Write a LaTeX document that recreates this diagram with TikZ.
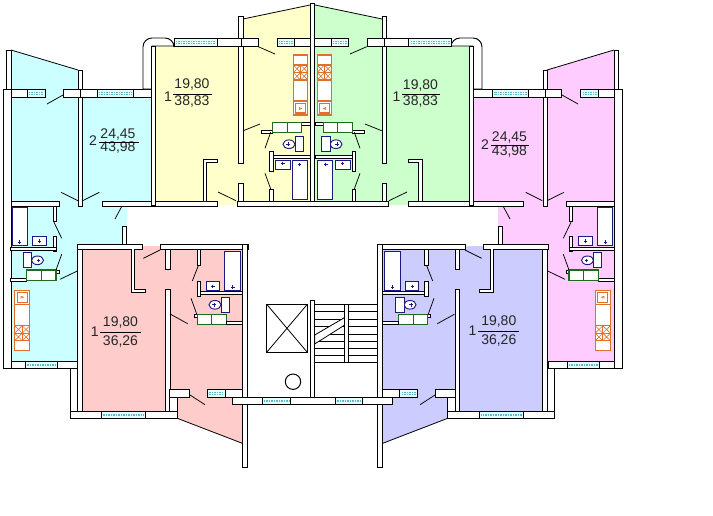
\documentclass[tikz,border=0pt]{standalone}
\usepackage{fontspec}
\setmainfont{Liberation Sans}
\definecolor{cCyan}{HTML}{CCFFFF}
\definecolor{cYellow}{HTML}{FFFFCC}
\definecolor{cGreen}{HTML}{CCFFCC}
\definecolor{cPink}{HTML}{FFCCFF}
\definecolor{cSalmon}{HTML}{FFCCCC}
\definecolor{cLav}{HTML}{CCCCFF}
\definecolor{cNavy}{HTML}{1A1A80}
\definecolor{cOrange}{HTML}{E0702A}
\definecolor{cLeaf}{HTML}{1E6B1E}
\definecolor{cGlass}{HTML}{5FB8C8}
\tikzset{
  wallbox/.style={draw=black,fill=white,line width=0.95pt,line join=miter},
  thinline/.style={draw=black,line width=0.8pt},
  doorleaf/.style={draw=black,line width=0.75pt},
  glassbox/.style={draw=black,fill=cCyan!55!white,line width=0.95pt},
  glassline/.style={draw=cGlass,line width=0.8pt,dash pattern=on 1.5pt off 1pt},
  fixture/.style={draw=cNavy,fill=white,line width=0.95pt},
  plusmark/.style={draw=cNavy,line width=0.8pt},
  stovebox/.style={draw=cOrange,fill=white,line width=1.2pt},
  stoveline/.style={draw=cOrange,line width=0.6pt},
  counterbox/.style={draw=cLeaf,fill=white,line width=1.1pt},
  numtext/.style={font=\fontsize{14}{16}\selectfont,inner sep=0pt,text=black!85},
  fracbar/.style={draw=black,line width=0.8pt},
}
\newcommand{\wallrect}[4]{\path[wallbox] (#1,#2) rectangle (#3,#4);}
\newcommand{\glass}[4]{%
  \path[glassbox] (#1,#2) rectangle (#3,#4);
  \path[glassline] (#1+1.5,{#2+(#4-#2)*0.4}) -- (#3-1.5,{#2+(#4-#2)*0.4});
  \path[glassline] (#1+1.5,{#2+(#4-#2)*0.62}) -- (#3-1.5,{#2+(#4-#2)*0.62});}
\newcommand{\leaf}[4]{\path[doorleaf] (#1,#2) -- (#3,#4);}
\newcommand{\plusat}[2]{\path[plusmark] (#1-1.8,#2) -- (#1+1.8,#2) (#1,#2-1.8) -- (#1,#2+1.8);}
\newcommand{\stovecol}{%
  \path[stovebox] (0,0) rectangle (14.5,60);
  \path[stoveline] (0,10) -- (7.25,17.5) (7.25,10) -- (0,17.5)
    (7.25,10) -- (14.5,17.5) (14.5,10) -- (7.25,17.5)
    (0,17.5) -- (7.25,25) (7.25,17.5) -- (0,25)
    (7.25,17.5) -- (14.5,25) (14.5,17.5) -- (7.25,25);
  \path[stovebox] (0,10) -- (14.5,10) (0,17.5) -- (14.5,17.5) (0,25) -- (14.5,25) (0,46) -- (14.5,46) (7.25,10) -- (7.25,25);
  \path[stovebox] (2.5,48.5) rectangle (12,58);
  \path[stoveline] (6,52.5) -- (8.5,53.5) -- (6,54.5) -- cycle;}
\newcommand{\toiletR}[2]{% tank left-edge x #1, top y #2, bowl to the left
  \path[fixture] (#1-6,#2+7.5) ellipse[x radius=6,y radius=4.3];
  \path[fixture] (#1,#2) rectangle (#1+8.5,#2+15);
  \plusat{#1-7}{#2+7.5}}
\newcommand{\halfplan}[3]{%
  % floor colours
  \fill[#1] (11,50) -- (78,70) -- (78,89) -- (152,89) -- (152,206) -- (127,206) -- (127,244) -- (77,244) -- (77,361) -- (11,361) -- cycle;
  \fill[#2] (155,46) -- (243,46) -- (243,19) -- (310,5) -- (310,205) -- (155,205) -- cycle;
  \fill[#3] (82,246) -- (242,246) -- (242,443) -- (177,418) -- (177,411) -- (82,411) -- cycle;
  % corner balcony of the two-room flat
  \path[thinline] (11,50) -- (78,70);
  \wallrect{6.5}{50}{11}{89}
  \wallrect{78}{70}{82}{206}
  \wallrect{3}{89}{11}{368}
  \wallrect{11}{89}{27}{97}
  \glass{27}{89}{45}{97}
  \wallrect{63.5}{89}{80}{97}
  \wallrect{80}{89}{97}{97}
  \glass{97}{89}{133}{97}
  \wallrect{133}{89}{152}{97}
  \wallrect{11}{201}{59}{206}
  \wallrect{102}{201}{217}{206}
  \leaf{63}{95}{47}{104}
  \leaf{61}{192.3}{78}{200.7}
  \leaf{82.7}{200.7}{99.3}{192.3}
  \leaf{122}{206}{115}{219}
  % bath and wc of the two-room flat
  \wallrect{53}{206}{56}{221.7}
  \wallrect{53}{236.7}{56}{251.7}
  \wallrect{10.7}{247}{56}{250}
  \leaf{54}{222.3}{61.7}{238.3}
  \path[fixture] (12.3,207.3) rectangle (27.7,245.7);
  \plusat{19.5}{242}
  \path[fixture] (32.3,236.3) rectangle (46.7,245.7);
  \plusat{39.5}{241}
  \path[fixture] (37.5,260.3) ellipse[x radius=6,y radius=4.3];
  \path[fixture] (23.3,252.7) rectangle (31.7,267.7);
  \plusat{38.5}{260.5}
  \wallrect{10.7}{278}{26.7}{281}
  \wallrect{56}{270}{59}{273}
  \path[counterbox] (26.7,270) rectangle (41.5,280.7);
  \path[counterbox] (41.5,270) rectangle (56,280.7);
  \leaf{56}{270}{61.7}{254.3}
  \leaf{60}{279.3}{77.3}{271}
  \begin{scope}[shift={(14.6,350.7)},yscale=-1,xscale=1.05]\stovecol\end{scope}
  \wallrect{11}{361}{25.7}{368.3}
  \glass{25.7}{361}{57.3}{368.3}
  \wallrect{57.3}{361}{77}{368.3}
  % one-room flat, upper
  \path[wallbox,rounded corners=9pt] (143,89) -- (143,38) -- (174,38) [sharp corners] -- (174,46) -- (152,46) -- (152,89) -- cycle;
  \wallrect{151.7}{46}{155.3}{205}
  \path[thinline] (243,19) -- (310,5);
  \wallrect{238.5}{16}{243}{163}
  \wallrect{238.5}{183}{243}{202}
  \glass{174}{38}{217}{46}
  \wallrect{217}{38}{241}{46}
  \wallrect{241}{38}{258}{46}
  \glass{277}{38}{294}{46}
  \path[wallbox] (203,201) -- (203,159) -- (217,159) -- (217,162) -- (206.3,162) -- (206.3,201);
  \leaf{218}{192}{236}{200.7}
  \leaf{258.3}{46.7}{275}{54}
  \leaf{243.3}{130.7}{260}{124}
  \begin{scope}[shift={(293.3,55)},xscale=1]\stovecol\end{scope}
  \wallrect{301.7}{122}{310}{125}
  \wallrect{261}{130}{272.3}{133}
  \path[counterbox] (272.3,122.3) rectangle (287.3,132.3);
  \path[counterbox] (287.3,122.3) rectangle (301.7,132.3);
  \leaf{265}{148.3}{270.7}{132.3}
  \toiletR{295}{136.7}
  \wallrect{270}{155.5}{310}{158.5}
  \wallrect{269.7}{151}{273}{171}
  \wallrect{269.7}{189.3}{273}{201}
  \leaf{265}{173.3}{270.7}{189}
  \path[fixture] (275,160) rectangle (290,169);
  \plusat{282.7}{163.5}
  \path[fixture] (292.3,160) rectangle (307.7,199.3);
  \plusat{299.3}{164.5}
  % one-room flat, lower
  \wallrect{70.7}{368}{77.3}{412}
  \wallrect{77.3}{244.3}{82.5}{412}
  \wallrect{77}{244.3}{142}{249}
  \wallrect{160}{244.3}{248}{249}
  \wallrect{122.3}{226}{126.7}{244.3}
  \path[wallbox] (131.5,249) -- (131.5,292.5) -- (145.7,292.5) -- (145.7,289.3) -- (134.8,289.3) -- (134.8,249);
  \leaf{143.3}{258.3}{160}{250}
  \wallrect{165.7}{249}{170}{269}
  \wallrect{165.7}{289}{170}{411.7}
  \wallrect{197}{249}{200.5}{265.7}
  \wallrect{197}{281}{200.5}{296.7}
  \wallrect{200.5}{291.3}{242.3}{294.5}
  \leaf{198.3}{265.7}{192.3}{281}
  \path[fixture] (224.3,251) rectangle (240.7,290.7);
  \plusat{232.7}{287}
  \path[fixture] (206.3,281.3) rectangle (219.3,290.7);
  \plusat{212.7}{286.3}
  \toiletR{221}{297.3}
  \wallrect{194.3}{314.3}{197.3}{317}
  \path[counterbox] (197.3,314.3) rectangle (211.7,324.3);
  \path[counterbox] (211.7,314.3) rectangle (226.7,324.3);
  \wallrect{226.7}{321.3}{242.3}{324.3}
  \leaf{196.7}{314}{191}{298.3}
  \leaf{170.7}{314.3}{187.7}{323.7}
  \wallrect{169.7}{397}{177.3}{412}
  \wallrect{169.7}{389.3}{189.7}{397.3}
  \leaf{190}{395}{205}{404.7}
  \glass{207.7}{389.3}{225.7}{397.3}
  \wallrect{225.7}{389.3}{242.3}{397.3}
  \wallrect{70.7}{411.7}{101.7}{418.3}
  \glass{101.7}{411.7}{145.7}{418.3}
  \wallrect{145.7}{411.7}{177.3}{418.3}
  \path[thinline] (177.3,418.3) -- (242.3,443.3);
  \wallrect{242.5}{244.3}{247.5}{467}
}
\begin{document}
\begin{tikzpicture}[x=1pt,y=-1pt]
\useasboundingbox (0,0) rectangle (713,515);
\fill[white] (0,0) rectangle (713,515);
\halfplan{cCyan}{cYellow}{cSalmon}
\begin{scope}[shift={(625,0)},xscale=-1]
\halfplan{cPink}{cGreen}{cLav}
\end{scope}
% shared walls of the core
\wallrect{294}{38}{331}{46}
\glass{331}{38}{348}{46}
\wallrect{310.3}{3}{314.7}{202}
\wallrect{237}{201}{388}{206}
% lift
\path[wallbox] (266.7,304.3) rectangle (307.3,352.3);
\path[thinline] (266.7,304.3) -- (307.3,352.3) (307.3,304.3) -- (266.7,352.3);
% stairs
\foreach \ty in {304.3,311.7,319.3,326.7,334,341,348.3,355.7,362.3}{\path[thinline] (314.7,\ty) -- (378.3,\ty);}
\path[draw=black,fill=white,line width=0.8pt] (314.7,335) -- (344.7,317.5) -- (344.7,325) -- (314.7,344) -- cycle;
\wallrect{344.7}{304.3}{348}{362.3}
\wallrect{310.3}{300.7}{314.7}{397.3}
\path[draw=black,line width=1pt,fill=white] (293,381.7) circle[radius=7.7];
\wallrect{232.7}{397.3}{262.3}{404.3}
\glass{262.3}{397.3}{290.7}{404.3}
\wallrect{290.7}{397.3}{335.7}{404.3}
\glass{335.7}{397.3}{362.3}{404.3}
\wallrect{362.3}{397.3}{392.3}{404.3}
% labels
\node[numtext] (a1n) at (93,140.5) {2};
\node[numtext] (a1s) at (118,135) {24,45};
\node[numtext] (a1t) at (118,148) {43,98};
\path[fracbar] (99,142) -- (139,142);
\node[numtext] (b1n) at (168,96.7) {1};
\node[numtext] (b1s) at (192,85) {19,80};
\node[numtext] (b1t) at (192,101.7) {38,83};
\path[fracbar] (173,94) -- (212,94);
\node[numtext] (c1n) at (396.5,96.7) {1};
\node[numtext] (c1s) at (420.5,85.5) {19,80};
\node[numtext] (c1t) at (420.5,102) {38,83};
\path[fracbar] (402,94.3) -- (440,94.3);
\node[numtext] (d1n) at (485,144.3) {2};
\node[numtext] (d1s) at (509.5,137.7) {24,45};
\node[numtext] (d1t) at (509.5,151.7) {43,98};
\path[fracbar] (491,145.3) -- (529,145.3);
\node[numtext] (e1n) at (94.7,331.7) {1};
\node[numtext] (e1s) at (120.5,322.7) {19,80};
\node[numtext] (e1t) at (120.5,341.7) {36,26};
\path[fracbar] (100,332.3) -- (140.7,332.3);
\node[numtext] (f1n) at (472.5,330.7) {1};
\node[numtext] (f1s) at (498.8,321.7) {19,80};
\node[numtext] (f1t) at (498.8,340.7) {36,26};
\path[fracbar] (478.3,331) -- (519,331);
\end{tikzpicture}
\end{document}
